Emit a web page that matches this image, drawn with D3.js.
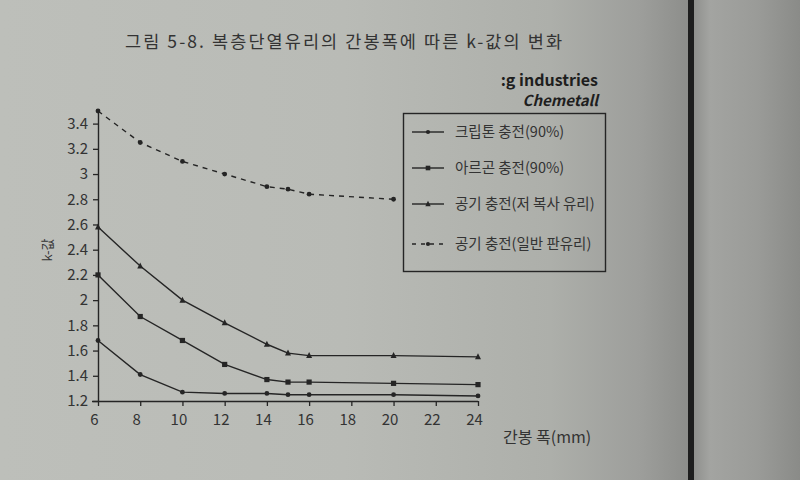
<!DOCTYPE html>
<html>
<head>
<meta charset="utf-8">
<script src="https://cdn.jsdelivr.net/npm/d3@7"></script>
<style>
  html, body { margin: 0; padding: 0; background: #b8bab5; }
  svg { display: block; }
  text { font-family: "Noto Sans CJK KR", "Noto Sans", sans-serif; }
</style>
</head>
<body>
<svg id="chart" width="800" height="480"></svg>
<script>
// ---- data ----
const gapWidths = [6, 8, 10, 12, 14, 15, 16, 20, 24];          // 간봉 폭 (mm)
const kryptonK  = [1.68, 1.41, 1.27, 1.26, 1.26, 1.25, 1.25, 1.25, 1.24];
const argonK    = [2.20, 1.87, 1.68, 1.49, 1.37, 1.35, 1.35, 1.34, 1.33];
const lowEAirK  = [2.58, 2.27, 2.00, 1.82, 1.65, 1.58, 1.56, 1.56, 1.55];
const plainGapWidths = [6, 8, 10, 12, 14, 15, 16, 20];
const plainAirK = [3.50, 3.25, 3.10, 3.00, 2.90, 2.88, 2.84, 2.80];

const xTicks = [6, 8, 10, 12, 14, 16, 18, 20, 22, 24];
const yTicks = [1.2, 1.4, 1.6, 1.8, 2, 2.2, 2.4, 2.6, 2.8, 3, 3.2, 3.4];

const seriesNames = ["크립톤  충전(90%)", "아르곤  충전(90%)", "공기 충전(저 복사 유리)", "공기 충전(일반 판유리)"];
const titleText = "그림 5-8. 복층단열유리의 간봉폭에 따른 k-값의 변화";

// ---- drawing ----
const svg = d3.select("#chart");

// paper background (photo of a book page)
const defs = svg.append("defs");
const g1 = defs.append("linearGradient").attr("id", "paperL").attr("x1", "0").attr("x2", "1").attr("y1", "0").attr("y2", "0");
[[0, "#bdbfba"], [0.5, "#b9bbb6"], [0.8, "#adafaa"], [0.93, "#9d9e9b"], [1, "#8d8e8b"]]
  .forEach(([o, c]) => g1.append("stop").attr("offset", o).attr("stop-color", c));
const g2 = defs.append("linearGradient").attr("id", "paperR").attr("x1", "0").attr("x2", "1").attr("y1", "0").attr("y2", "0");
[[0, "#8f908d"], [0.15, "#a3a4a1"], [0.6, "#9a9b98"], [1, "#8a8b88"]]
  .forEach(([o, c]) => g2.append("stop").attr("offset", o).attr("stop-color", c));
svg.append("rect").attr("width", 688).attr("height", 480).attr("fill", "url(#paperL)");
svg.append("rect").attr("x", 688).attr("width", 6).attr("height", 480).attr("fill", "#1e1e1e");
svg.append("rect").attr("x", 694).attr("width", 106).attr("height", 480).attr("fill", "url(#paperR)");

const ink = "#252525";
const x = d3.scaleLinear().domain([6, 24]).range([98, 478]);
const y = d3.scaleLinear().domain([1.2, 3.5]).range([401, 111]);

// title
svg.append("text").attr("x", 125).attr("y", 48).attr("font-size", 17.5).attr("fill", "#333")
  .attr("textLength", 437).attr("lengthAdjust", "spacing")
  .text(titleText);

// header text of the page
svg.append("text").attr("x", 598).attr("y", 86).attr("font-size", 16).attr("font-weight", "bold")
  .attr("text-anchor", "end")
  .attr("fill", "#1e1e1e").attr("font-family", "'Open Sans', sans-serif").text(":g industries");
svg.append("text").attr("x", 598).attr("y", 106).attr("font-size", 15).attr("font-weight", "bold")
  .attr("font-style", "italic").attr("text-anchor", "end")
  .attr("fill", "#1e1e1e").attr("font-family", "'Open Sans', sans-serif").text("Chemetall");

// axes
const xAxis = d3.axisBottom(x).tickValues(xTicks).tickSize(5).tickPadding(8).tickFormat(d3.format("d"));
const gx = svg.append("g").attr("transform", `translate(0,${y(1.2)})`).call(xAxis);
gx.select(".domain").attr("d", `M${x(6) - 6},0.5H${x(24)}`);

const yAxis = d3.axisLeft(y).tickValues(yTicks).tickSize(5).tickPadding(5)
  .tickFormat(d => String(+d.toFixed(1)));
const gy = svg.append("g").attr("transform", `translate(${x(6)},0)`).call(yAxis);
gy.select(".domain").attr("d", `M0.5,${y(1.2)}V${y(3.5)}`);

[gx, gy].forEach(g => {
  g.selectAll(".domain").attr("stroke", ink).attr("stroke-width", 1.4);
  g.selectAll(".tick line").attr("stroke", ink).attr("stroke-width", 1.3);
  g.selectAll(".tick text").attr("fill", "#333").attr("font-size", 15)
    .attr("font-family", "'Liberation Sans', Arial, sans-serif");
});
gx.selectAll(".tick text").attr("dx", -4);

// axis titles
svg.append("text").attr("transform", "translate(52,250) rotate(-90)").attr("text-anchor", "middle")
  .attr("font-size", 13).attr("fill", "#333").text("k-값");
svg.append("text").attr("x", 503).attr("y", 443).attr("font-size", 16).attr("fill", "#333")
  .text("간봉 폭(mm)");

// series
const line = d3.line().x(d => x(d[0])).y(d => y(d[1]));
const series = [
  { xs: gapWidths, ys: kryptonK, dash: null, marker: "circle", size: 2.4 },
  { xs: gapWidths, ys: argonK, dash: null, marker: "square", size: 2.6 },
  { xs: gapWidths, ys: lowEAirK, dash: null, marker: "triangle", size: 3 },
  { xs: plainGapWidths, ys: plainAirK, dash: "5,5", marker: "circle", size: 2.4 }
];

function drawMarker(g, type, cx, cy, s) {
  if (type === "circle") {
    g.append("circle").attr("cx", cx).attr("cy", cy).attr("r", s).attr("fill", ink);
  } else if (type === "square") {
    g.append("rect").attr("x", cx - s).attr("y", cy - s).attr("width", 2 * s).attr("height", 2 * s).attr("fill", ink);
  } else {
    g.append("path").attr("d", `M${cx},${cy - s - 0.5}L${cx + s},${cy + s - 0.5}L${cx - s},${cy + s - 0.5}Z`).attr("fill", ink);
  }
}

series.forEach(s => {
  const pts = s.xs.map((v, i) => [v, s.ys[i]]);
  svg.append("path").attr("d", line(pts)).attr("fill", "none").attr("stroke", ink)
    .attr("stroke-width", 1.4).attr("stroke-dasharray", s.dash);
  const g = svg.append("g");
  pts.forEach(p => drawMarker(g, s.marker, x(p[0]), y(p[1]), s.size));
});

// legend
const lg = svg.append("g");
lg.append("rect").attr("x", 403.5).attr("y", 113.5).attr("width", 202).attr("height", 158)
  .attr("fill", "none").attr("stroke", ink).attr("stroke-width", 1.4);
const rowY = [132, 168, 204, 244];
series.forEach((s, i) => {
  const yy = rowY[i];
  lg.append("line").attr("x1", 412).attr("x2", 444).attr("y1", yy).attr("y2", yy)
    .attr("stroke", ink).attr("stroke-width", 1.4).attr("stroke-dasharray", s.dash ? "4,5" : null);
  drawMarker(lg, s.marker, 428, yy, s.size - 0.3);
  lg.append("text").attr("x", 455).attr("y", yy + 5).attr("font-size", 14.5).attr("fill", "#333")
    .text(seriesNames[i]);
});
</script>
</body>
</html>
